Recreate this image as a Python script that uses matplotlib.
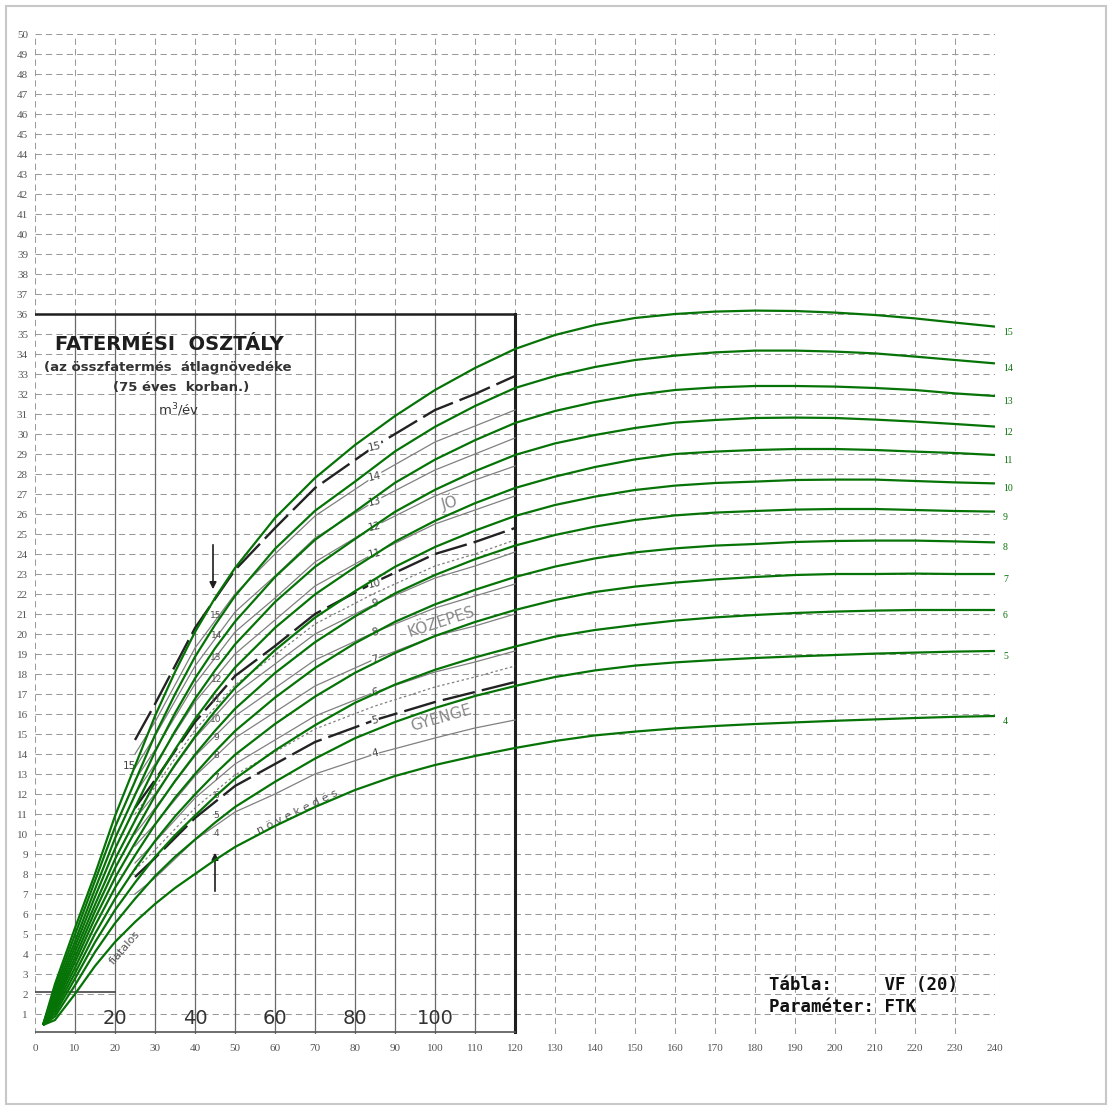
import matplotlib
matplotlib.use("Agg")
import matplotlib.pyplot as plt
from matplotlib.patches import Rectangle

# Age (years) at which the yield-class curves are tabulated
ages = [2, 5, 10, 15, 20, 25, 30, 35, 40, 45, 50, 60, 70, 80, 90, 100, 110,
        120, 130, 140, 150, 160, 170, 180, 190, 200, 210, 220, 230, 240]

# Mean annual increment (m3/ha/year) by yield class
ftk_15 = [0.45, 2.5, 5.3, 8.0, 10.9, 13.4, 15.9, 18.1, 20.1, 21.8, 23.3, 25.8, 27.8, 29.45, 30.9, 32.2, 33.3,
          34.25, 34.95, 35.45, 35.8, 36.0, 36.12, 36.17, 36.15, 36.07, 35.95, 35.78, 35.57, 35.37]
ftk_14 = [0.45, 2.29, 4.97, 7.66, 10.34, 12.63, 14.95, 16.99, 18.86, 20.45, 21.9, 24.26, 26.16, 27.62, 29.13, 30.36, 31.4,
          32.3, 32.9, 33.35, 33.7, 33.92, 34.08, 34.17, 34.17, 34.12, 34.03, 33.87, 33.7, 33.53]
ftk_13 = [0.45, 2.11, 4.64, 7.24, 9.78, 11.95, 14.11, 16.04, 17.78, 19.28, 20.62, 22.85, 24.71, 26.12, 27.56, 28.72, 29.69,
          30.55, 31.15, 31.6, 31.95, 32.2, 32.33, 32.4, 32.4, 32.37, 32.3, 32.2, 32.03, 31.9]
ftk_12 = [0.45, 1.91, 4.37, 6.86, 9.26, 11.32, 13.37, 15.14, 16.76, 18.18, 19.48, 21.6, 23.36, 24.75, 26.11, 27.21, 28.14,
          28.95, 29.53, 29.95, 30.3, 30.57, 30.7, 30.8, 30.82, 30.8, 30.72, 30.62, 30.5, 30.37]
ftk_11 = [0.45, 1.75, 4.1, 6.47, 8.74, 10.67, 12.59, 14.22, 15.75, 17.09, 18.32, 20.31, 21.98, 23.34, 24.62, 25.66, 26.54,
          27.3, 27.87, 28.35, 28.73, 29.0, 29.12, 29.2, 29.25, 29.25, 29.2, 29.12, 29.05, 28.95]
ftk_10 = [0.45, 1.61, 3.83, 6.14, 8.29, 10.13, 11.91, 13.47, 14.87, 16.14, 17.3, 19.19, 20.82, 22.14, 23.36, 24.35, 25.17,
          25.9, 26.45, 26.87, 27.2, 27.42, 27.55, 27.62, 27.7, 27.72, 27.72, 27.65, 27.58, 27.53]
ftk_9 = [0.45, 1.47, 3.59, 5.79, 7.81, 9.55, 11.21, 12.65, 13.97, 15.16, 16.26, 18.05, 19.59, 20.88, 22.03, 22.95, 23.74,
         24.42, 24.95, 25.37, 25.7, 25.93, 26.07, 26.15, 26.22, 26.25, 26.25, 26.2, 26.15, 26.12]
ftk_8 = [0.45, 1.33, 3.31, 5.42, 7.31, 8.93, 10.47, 11.81, 13.0, 14.12, 15.15, 16.82, 18.3, 19.54, 20.61, 21.48, 22.21,
         22.85, 23.37, 23.78, 24.08, 24.28, 24.42, 24.5, 24.6, 24.65, 24.67, 24.67, 24.63, 24.58]
ftk_7 = [0.45, 1.18, 3.04, 5.01, 6.76, 8.26, 9.65, 10.88, 11.98, 13.01, 13.96, 15.5, 16.87, 18.06, 19.05, 19.9, 20.6,
         21.2, 21.7, 22.1, 22.37, 22.57, 22.73, 22.85, 22.95, 23.0, 23.0, 23.02, 23.0, 23.0]
ftk_6 = [0.45, 1.03, 2.77, 4.59, 6.2, 7.57, 8.85, 9.94, 10.92, 11.87, 12.76, 14.18, 15.44, 16.56, 17.47, 18.21, 18.83,
         19.37, 19.87, 20.2, 20.45, 20.67, 20.83, 20.95, 21.05, 21.12, 21.17, 21.2, 21.2, 21.2]
ftk_5 = [0.45, 0.88, 2.44, 4.1, 5.54, 6.76, 7.89, 8.86, 9.72, 10.57, 11.35, 12.61, 13.77, 14.79, 15.6, 16.3, 16.9,
         17.4, 17.85, 18.18, 18.42, 18.58, 18.7, 18.8, 18.88, 18.95, 19.02, 19.07, 19.12, 19.15]
ftk_4 = [0.45, 0.7, 2.0, 3.4, 4.6, 5.6, 6.5, 7.3, 8.0, 8.7, 9.35, 10.4, 11.35, 12.2, 12.9, 13.45, 13.9,
         14.3, 14.65, 14.93, 15.12, 15.28, 15.4, 15.5, 15.58, 15.66, 15.73, 15.8, 15.86, 15.9]

class_labels = [4, 5, 6, 7, 8, 9, 10, 11, 12, 13, 14, 15]
class_series = [ftk_4, ftk_5, ftk_6, ftk_7, ftk_8, ftk_9, ftk_10, ftk_11, ftk_12, ftk_13, ftk_14, ftk_15]

# Printed nomogram underneath: its own class curves
nomo_ages = [25, 30, 40, 50, 60, 70, 85, 100, 110, 120]
nomo_15 = [14.7, 16.5, 20.3, 23.2, 25.3, 27.3, 29.4, 31.2, 32.0, 32.9]
nomo_14 = [14.0, 15.6, 19.3, 22.0, 24.0, 25.9, 27.9, 29.6, 30.4, 31.2]
nomo_13 = [13.3, 14.9, 18.4, 21.1, 22.9, 24.8, 26.65, 28.2, 29.0, 29.8]
nomo_12 = [12.7, 14.2, 17.5, 20.1, 21.8, 23.6, 25.4, 26.9, 27.7, 28.4]
nomo_11 = [12.0, 13.5, 16.6, 19.0, 20.7, 22.4, 24.05, 25.5, 26.2, 26.9]
nomo_10 = [11.3, 12.7, 15.6, 17.9, 19.4, 21.0, 22.6, 24.0, 24.6, 25.3]
nomo_9 = [10.75, 12.0, 14.8, 17.0, 18.5, 20.0, 21.5, 22.8, 23.4, 24.1]
nomo_8 = [10.0, 11.3, 13.9, 15.9, 17.3, 18.7, 20.1, 21.3, 21.9, 22.5]
nomo_7 = [9.4, 10.5, 12.9, 14.8, 16.1, 17.4, 18.75, 19.9, 20.4, 21.0]
nomo_6 = [8.55, 9.6, 11.8, 13.5, 14.7, 15.9, 17.1, 18.1, 18.6, 19.15]
nomo_5 = [7.85, 8.8, 10.8, 12.4, 13.5, 14.6, 15.7, 16.6, 17.1, 17.6]
nomo_4 = [7.0, 7.8, 9.7, 11.1, 12.0, 13.0, 14.0, 14.8, 15.3, 15.7]
nomo_series = [nomo_4, nomo_5, nomo_6, nomo_7, nomo_8, nomo_9, nomo_10, nomo_11, nomo_12, nomo_13, nomo_14, nomo_15]
nomo_heavy = [5, 10, 15]
# dotted intermediate curves of the nomogram
nomo_dot_hi = [11.0, 12.35, 15.2, 17.45, 18.95, 20.5, 22.05, 23.4, 24.0, 24.7]
nomo_dot_lo = [8.2, 9.2, 11.3, 12.95, 14.1, 15.25, 16.4, 17.35, 17.85, 18.4]

old_scale_ages = [20, 40, 60, 80, 100]
old_class_label_y = [13.87, 15.55, 16.95, 18.6, 19.95, 21.37, 22.37, 23.85, 25.2, 26.45, 27.7, 29.2]
arrow_class_label_y = [10.0, 10.9, 11.9, 12.8, 13.9, 14.8, 15.7, 16.7, 17.7, 18.8, 19.9, 20.9]

GREEN = "#067306"
GRID = "#9a9a9a"
TICK = "#555555"
INK = "#1e1e1e"

fig = plt.figure(figsize=(11.08, 11.09), dpi=100)
fig.patches.append(Rectangle((6 / 1108, 5 / 1109), 1100 / 1108, 1098 / 1109,
                             transform=fig.transFigure, fill=False,
                             edgecolor="#c8c8c8", linewidth=1.5))

ax = fig.add_axes([35 / 1108, 1 - 1034 / 1109, 960 / 1108, 1000 / 1109])
ax.set_xlim(0, 240)
ax.set_ylim(0, 50)
for s in ax.spines.values():
    s.set_visible(False)

ax.set_xticks(range(0, 241, 10))
ax.set_yticks(range(1, 51))
ax.tick_params(length=0, labelsize=8, labelcolor=TICK)
ax.tick_params(axis="x", pad=7)
ax.tick_params(axis="y", pad=5)
for lab in ax.get_xticklabels() + ax.get_yticklabels():
    lab.set_fontfamily("Liberation Serif")

# dashed grid
for gx in range(0, 241, 10):
    ax.plot([gx, gx], [0, 50], color=GRID, lw=0.75, ls=(0, (6, 4)), zorder=1)
for gy in range(0, 51):
    ax.plot([0, 240], [gy, gy], color=GRID, lw=0.75, ls=(0, (6, 4)), zorder=1)

# ---- printed nomogram (frame, rulings, curves, captions) ----
for vx in range(10, 120, 10):
    ax.plot([vx, vx], [0, 36], color="#6a6a6a", lw=0.9, zorder=2)
ax.plot([0, 120], [36, 36], color=INK, lw=1.8, zorder=3)
ax.plot([120, 120], [0, 36], color=INK, lw=2.2, zorder=3)
ax.plot([0, 120], [0.08, 0.08], color="#555555", lw=1.2, zorder=3)
ax.plot([0, 20], [2.1, 2.1], color="#444444", lw=1.2, zorder=3)

for k, series in zip(class_labels, nomo_series):
    if k in nomo_heavy:
        ax.plot(nomo_ages, series, color="#222222", lw=1.7, ls=(0, (14, 3)), zorder=3)
    else:
        ax.plot(nomo_ages, series, color="#808080", lw=0.9, zorder=3)
ax.plot(nomo_ages, nomo_dot_hi, color="#808080", lw=0.9, ls=(0, (2, 2)), zorder=3)
ax.plot(nomo_ages, nomo_dot_lo, color="#808080", lw=0.9, ls=(0, (2, 2)), zorder=3)

ax.text(33.5, 34.5, "FATERMÉSI  OSZTÁLY", ha="center", va="center", fontsize=14,
        fontfamily="DejaVu Sans", fontweight="bold", color=INK, zorder=4)
ax.text(33.2, 33.3, "(az összfatermés  átlagnövedéke", ha="center", va="center",
        fontsize=9.5, fontweight="bold", color="#333333", zorder=4)
ax.text(36.5, 32.35, "(75 éves  korban.)", ha="center", va="center",
        fontsize=9.5, fontweight="bold", color="#333333", zorder=4)
ax.text(36, 31.2, "m$^3$/év", ha="center", va="center", fontsize=9.5, color="#333333", zorder=4)

for a in old_scale_ages:
    ax.text(a, 0.75, str(a), ha="center", va="center", fontsize=14,
            fontfamily="DejaVu Sans", color="#333333", zorder=4)

ax.text(103.5, 26.6, "JÓ", ha="center", va="center", fontsize=11, rotation=15,
        color="#8a8a8a", zorder=4)
ax.text(101.5, 20.6, "KÖZEPES", ha="center", va="center", fontsize=11, rotation=18,
        color="#8a8a8a", zorder=4)
ax.text(101.5, 15.8, "GYENGE", ha="center", va="center", fontsize=11, rotation=16,
        color="#8a8a8a", zorder=4)
ax.text(22.5, 4.3, "fiatalos", ha="center", va="center", fontsize=8, rotation=49,
        color="#555555", zorder=4)
ax.text(65.5, 11.1, "n ö v e k e d é s", ha="center", va="center", fontsize=8,
        rotation=26, color="#555555", zorder=4)

for k, yv in zip(class_labels, old_class_label_y):
    ax.text(85, yv + 0.15, str(k), ha="center", va="center", fontsize=7.5, rotation=12,
            color="#444444", zorder=4,
            bbox=dict(boxstyle="square,pad=0.05", fc="white", ec="none"))
for k, yv in zip(class_labels, arrow_class_label_y):
    ax.text(45.3, yv, str(k), ha="center", va="center", fontsize=6.5,
            color="#555555", zorder=4)
ax.text(23.7, 13.4, "15", ha="center", va="center", fontsize=7.5, color="#444444", zorder=4)

ax.annotate("", xy=(44.5, 22.1), xytext=(44.5, 24.6),
            arrowprops=dict(arrowstyle="-|>", color=INK, lw=1.2), zorder=4)
ax.annotate("", xy=(45.0, 9.2), xytext=(45.0, 7.0),
            arrowprops=dict(arrowstyle="-|>", color=INK, lw=1.2), zorder=4)

# ---- yield-class curves ----
for k, series in zip(class_labels, class_series):
    ax.plot(ages, series, color=GREEN, lw=1.6, zorder=5, solid_capstyle="butt",
            solid_joinstyle="round")
    ax.text(242, series[-1] - 0.05, str(k), ha="left", va="top", fontsize=7,
            fontfamily="Liberation Serif", color=GREEN, clip_on=False)

ax.text(183.5, 2.45, "Tábla:     VF (20)", ha="left", va="center", fontsize=12.5,
        fontfamily="DejaVu Sans Mono", fontweight="bold", color="#111111", zorder=6)
ax.text(183.5, 1.37, "Paraméter: FTK", ha="left", va="center", fontsize=12.5,
        fontfamily="DejaVu Sans Mono", fontweight="bold", color="#111111", zorder=6)

fig.savefig("out.png", dpi=100)
